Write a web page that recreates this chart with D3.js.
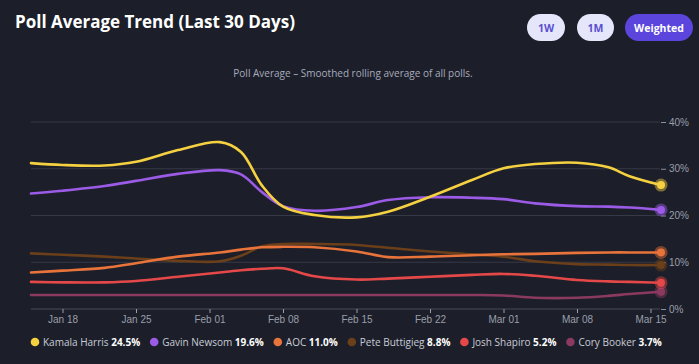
<!DOCTYPE html>
<html><head><meta charset="utf-8">
<script src="https://cdn.jsdelivr.net/npm/d3@7"></script>
<style>
html,body{margin:0;padding:0;background:#1c1f29;}
svg{display:block;}
</style></head>
<body>
<svg id="chart" width="699" height="364"></svg>
<script>
// ---- data ----
const dates = ["2025-01-15","2025-01-18","2025-01-22","2025-01-25","2025-01-29","2025-02-02","2025-02-04","2025-02-06","2025-02-08","2025-02-11","2025-02-15","2025-02-18","2025-02-22","2025-02-26","2025-03-01","2025-03-04","2025-03-08","2025-03-11","2025-03-13","2025-03-16"];
const harris    = [31.2,30.8,30.7,31.5,34.0,35.7,33.6,26.4,21.9,20.1,19.6,20.8,24.0,27.6,30.1,31.0,31.3,30.3,28.4,26.5];
const newsom    = [24.7,25.3,26.3,27.4,28.9,29.7,28.8,25.0,22.0,21.0,21.8,23.3,23.9,23.8,23.5,22.6,22.0,21.9,21.7,21.2];
const aoc       = [7.8,8.2,8.8,9.8,11.2,12.1,12.7,13.2,13.3,13.2,12.3,11.1,11.2,11.5,11.7,11.8,12.0,12.1,12.1,12.1];
const buttigieg = [11.9,11.6,11.2,10.8,10.3,10.2,11.4,13.4,13.9,13.9,13.7,13.1,12.3,11.7,11.2,10.2,9.6,9.5,9.4,9.4];
const shapiro   = [5.8,5.7,5.7,6.0,6.9,7.8,8.3,8.6,8.7,7.0,6.3,6.5,6.9,7.3,7.5,7.1,6.2,5.9,5.8,5.6];
const booker    = [3.0,3.0,3.0,3.0,3.0,3.0,3.0,3.0,3.0,3.0,3.0,3.0,3.0,3.0,2.9,2.4,2.4,2.8,3.2,3.7];
const seriesNames  = ["Kamala Harris","Gavin Newsom","AOC","Pete Buttigieg","Josh Shapiro","Cory Booker"];
const seriesColors = ["#f5d142","#9b5be6","#e8743b","#6b3f19","#e54848","#8b3a5f"];
const legendValues = ["24.5%","19.6%","11.0%","8.8%","5.2%","3.7%"];
const xTickDates = ["2025-01-18","2025-01-25","2025-02-01","2025-02-08","2025-02-15","2025-02-22","2025-03-01","2025-03-08","2025-03-15"];
const yTicks = [0,10,20,30,40];
const buttons = ["1W","1M","Weighted"];

const allSeries = [harris,newsom,aoc,buttigieg,shapiro,booker];
// drawing order: back to front
const drawOrder = [5,3,4,2,1,0];

const parse = d3.timeParse("%Y-%m-%d");
const svg = d3.select("#chart");

const x = d3.scaleTime().domain([parse("2025-01-15"), parse("2025-03-16")]).range([31, 661]);
const y = d3.scaleLinear().domain([0, 40]).range([309, 122]);

// title
svg.append("text").attr("x",15).attr("y",28)
  .attr("font-family","'Open Sans', sans-serif").attr("font-weight",700).attr("font-size",17)
  .attr("fill","#ffffff").text("Poll Average Trend (Last 30 Days)");

// buttons
const btnDefs = [{x:527,w:38},{x:577,w:37},{x:625,w:68}];
buttons.forEach((b,i)=>{
  const active = i===2;
  const g = svg.append("g");
  g.append("rect").attr("x",btnDefs[i].x).attr("y",14).attr("width",btnDefs[i].w).attr("height",27)
    .attr("rx",13.5).attr("fill", active ? "#5b45dd" : "#e6e6fb");
  g.append("text").attr("x",btnDefs[i].x+btnDefs[i].w/2).attr("y",31.5).attr("text-anchor","middle")
    .attr("font-family","'Open Sans', sans-serif").attr("font-weight",700).attr("font-size",10.5)
    .attr("fill", active ? "#ffffff" : "#5a4fcf").text(b);
});

// subtitle
svg.append("text").attr("x",353).attr("y",77).attr("text-anchor","middle")
  .attr("font-family","'Open Sans', sans-serif").attr("font-size",10)
  .attr("fill","#a7abbd").text("Poll Average – Smoothed rolling average of all polls.");

// gridlines
svg.append("g").selectAll("line").data(yTicks.filter(d=>d>0)).join("line")
  .attr("x1",31).attr("x2",660).attr("y1",d=>y(d)).attr("y2",d=>y(d))
  .attr("stroke","#363a46").attr("stroke-width",1.2);

// right axis
const yAxis = d3.axisRight(y).tickValues(yTicks).tickFormat(d=>d+"%").tickSize(5).tickPadding(3);
const gy = svg.append("g").attr("transform","translate(661,0)").call(yAxis);
gy.select(".domain").remove();
gy.selectAll("line").attr("stroke","#8a8e9c");
gy.selectAll("text").attr("fill","#9a9eab").attr("font-family","'Liberation Sans', Arial, sans-serif").attr("font-size",10);

// bottom axis
const xAxis = d3.axisBottom(x).tickValues(xTickDates.map(parse)).tickFormat(d3.timeFormat("%b %d")).tickSize(4).tickPadding(3);
const gx = svg.append("g").attr("transform","translate(0,309)").call(xAxis);
gx.select(".domain").attr("stroke","#3a3e4a").attr("stroke-width",1.5).attr("d","M31,0H660");
gx.selectAll("line").attr("stroke","#9a9eab");
gx.selectAll("text").attr("fill","#9a9eab").attr("font-family","'Liberation Sans', Arial, sans-serif").attr("font-size",10);

// lines
const line = d3.line().x((d,i)=>x(parse(dates[i]))).y(d=>y(d)).curve(d3.curveCatmullRom.alpha(0.5));
drawOrder.forEach(k=>{
  svg.append("path").datum(allSeries[k]).attr("d",line)
    .attr("fill","none").attr("stroke",seriesColors[k]).attr("stroke-width",2.6).attr("stroke-linecap","round");
});
// end markers
drawOrder.forEach(k=>{
  const v = allSeries[k][allSeries[k].length-1];
  const cx = x(parse(dates[dates.length-1])), cy = y(v);
  svg.append("circle").attr("cx",cx).attr("cy",cy).attr("r",6.5).attr("fill",seriesColors[k]).attr("opacity",0.45);
  svg.append("circle").attr("cx",cx).attr("cy",cy).attr("r",4).attr("fill",seriesColors[k]);
});

// legend
let lx = 35;
const ly = 342;
seriesNames.forEach((n,i)=>{
  svg.append("circle").attr("cx",lx).attr("cy",ly).attr("r",4.3).attr("fill",seriesColors[i]);
  const t = svg.append("text").attr("x",lx+8).attr("y",ly+3.5)
    .attr("font-family","'Open Sans', sans-serif").attr("font-size",10).attr("fill","#c9ccd8");
  t.append("tspan").text(n+" ");
  t.append("tspan").attr("font-weight",700).attr("fill","#ffffff").text(legendValues[i]);
  const w = t.node().getComputedTextLength();
  lx = lx + 8 + w + 14;
});
</script>
</body></html>
